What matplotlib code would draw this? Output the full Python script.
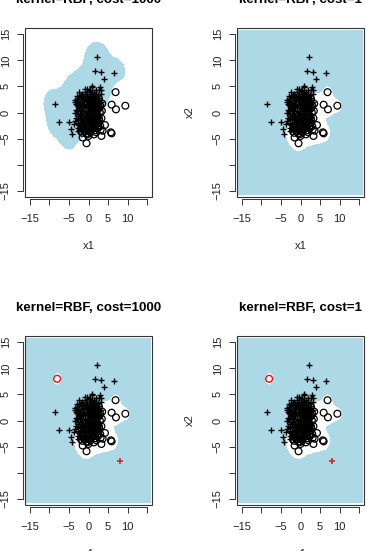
import numpy as np
import matplotlib
matplotlib.use("Agg")
import matplotlib.pyplot as plt
from matplotlib.patches import Rectangle

plt.rcParams["font.family"] = ["Liberation Sans", "DejaVu Sans"]

# points of class "+"
plus_pts = [
    (2.1, 10.7), (1.6, 8.0), (3.3, 7.8), (4.0, 6.5), (6.6, 7.5),
    (-8.6, 1.7), (-7.6, -1.8), (-5.1, -1.9), (-4.4, -3.2), (-4.1, -4.1),
    (-3.5, 2.4), (-3.5, 2.0), (-1.8, 3.1), (0.2, 4.2), (-3.4, -0.1),
    (-2.8, -2.9), (-3.6, -2.2), (0.9, 5.1), (3.0, 4.8), (3.1, 4.3),
    (-3.0, 3.2), (-1.0, 4.5), (-2.6, -3.5),
    (-0.2, 0.3), (0.5, -0.4), (-0.8, 1.1), (0.9, 0.8), (-1.3, -0.6),
    (0.1, 1.9), (-0.5, -1.5), (1.2, -1.1), (-1.8, 0.4), (0.6, 2.6),
    (-1.1, 2.2), (1.5, 1.6), (-2.1, -1.3), (0.3, -2.3), (-0.7, -2.8),
    (1.8, 0.2), (-1.6, 1.7), (2.2, 2.1), (-2.4, 0.9), (0.8, 3.3),
    (-0.3, 3.6), (1.4, 3.0), (-1.9, 2.8), (2.5, -0.3), (-2.7, -0.2),
    (-1.2, -2.1), (0.0, -1.0), (0.4, 0.9), (-0.9, 0.2), (1.0, -0.2),
    (-0.4, -0.6), (0.7, 1.4), (-1.5, -1.8), (1.6, -2.0), (-2.3, -2.4),
    (-0.1, 2.7), (1.1, 2.3), (-0.6, 1.6), (2.0, -1.4), (-2.9, 1.5),
    (-3.1, -1.0), (2.7, 1.0), (0.2, -3.1), (-1.0, -3.4), (1.3, 4.0),
    (-0.8, 3.9), (2.4, 3.3), (-2.6, 2.2), (-3.0, 2.6), (1.9, -2.6),
    (0.9, -2.9), (-1.7, -2.9), (-2.0, 3.4), (0.5, 4.3), (2.9, -1.6),
    (-3.3, 0.5), (-2.2, -3.2), (1.7, 1.1), (-1.4, 0.8), (0.6, -1.7),
    (-0.2, -2.0), (2.3, 0.7), (-1.1, -1.0), (0.0, 0.0), (0.3, 1.3),
    (-0.5, 2.2), (1.2, 0.4), (-2.0, -0.5), (-0.9, -1.9), (1.0, -1.5),
    (3.2, 2.0), (-3.4, -1.7), (2.8, 4.4), (-1.4, 3.2),
    (-1.6, 3.6), (-0.6, 3.2), (0.3, 3.5), (1.0, 3.7), (1.8, 3.6),
    (-2.3, 3.0), (-1.2, 2.7), (-0.4, 3.0), (0.4, 3.1), (1.9, 3.2),
    (2.6, 2.8), (-2.8, 2.1), (-1.5, 2.4), (-0.9, 2.6), (0.2, 2.3),
    (0.9, 2.0), (1.6, 2.5), (2.4, 2.3), (-3.2, 1.7), (-2.2, 1.8),
    (-1.3, 1.4), (-0.2, 1.6), (0.5, 1.9), (1.3, 1.2), (2.1, 1.6),
    (2.8, 1.8), (-2.6, 1.3), (-1.9, 1.0), (-0.4, 1.2), (0.2, 0.6),
    (1.4, 0.7), (2.0, 1.2), (2.5, 0.4), (-3.0, 0.2), (-2.2, 0.2),
    (-1.6, -0.1), (-0.6, -0.1), (0.6, 0.3), (1.1, -0.6), (1.9, -0.4),
    (2.6, -0.9), (-2.6, -0.7), (-1.7, -0.8), (-0.8, -0.5), (0.3, -0.7),
    (0.9, -1.1), (1.6, -1.0), (-2.8, -1.4), (-1.6, -1.3), (-0.7, -1.1),
    (0.3, -1.6), (1.4, -1.5), (2.3, -1.8), (-2.6, -2.0), (-1.9, -2.2),
    (-1.0, -2.3), (0.0, -2.2), (1.1, -2.1), (1.9, -2.0), (-2.2, -2.8),
    (-1.3, -3.0), (-0.4, -3.2), (0.6, -2.7), (1.4, -2.8), (-1.9, -3.5),
    (-0.2, -3.7), (1.0, -3.4), (3.3, 3.5), (2.0, 4.3), (-2.4, 3.9),
    (1.0, 4.8), (-0.3, 4.6),
]

# points of class "o"
circ_pts = [
    (6.9, 3.9), (5.9, 1.5), (7.0, 0.6), (9.4, 1.3), (3.5, 1.7),
    (3.4, 0.3), (4.2, -2.4), (3.1, -3.3), (5.7, -3.8), (5.9, -4.0),
    (3.3, -4.5), (-1.5, -4.8), (-0.5, -5.9), (0.0, -4.1), (2.3, -2.7),
    (2.5, -0.8), (-1.9, -3.6), (0.2, -3.6), (3.6, -3.5),
    (1.5, -0.5), (2.0, 0.9), (1.0, -2.4), (2.6, -2.0), (1.8, -3.4),
    (0.5, -3.8), (-0.8, -3.6), (2.9, 0.0), (3.0, 1.3), (2.2, -1.2),
    (1.3, -1.8), (0.4, -1.2), (-0.3, -2.6), (2.7, 2.6), (1.9, 2.8),
    (-1.2, -2.6), (-2.4, -1.9), (0.8, 0.1), (-0.6, 0.6), (1.1, 1.8),
    (2.4, -3.0), (-1.6, -3.9), (0.0, -4.5), (1.4, -4.2),
    (0.2, -0.3), (-0.2, -1.3), (1.3, 0.9), (0.7, -0.9), (1.8, -1.4),
    (2.7, -1.3), (3.0, -2.6), (1.6, -2.9), (0.8, -3.2), (-0.5, -4.1),
    (2.2, 0.4), (2.8, 0.9), (2.4, 1.9), (-1.0, -0.4), (-1.8, -2.6),
    (0.3, 2.2), (-0.4, 1.9), (1.5, 2.2), (3.3, -1.1), (2.0, -3.8),
]

# the two extra points in the lower panels
red_circ = [(-8.0, 8.0)]
red_plus = [(8.0, -7.8)]

titles = ["kernel=RBF, cost=1000", "kernel=RBF, cost=1",
          "kernel=RBF, cost=1000", "kernel=RBF, cost=1"]
ticks = [-15, -10, -5, 0, 5, 10, 15]
xtick_labels = ["\u221215", "", "\u22125", "0", "5", "10", ""]
ytick_labels = ["\u221215", "", "\u22125", "0", "5", "10", "15"]

BLUE = "#add8e6"
RED = "#d02828"

plus = np.array(plus_pts)
circ = np.array(circ_pts)


def kern_sum(pts, gx, gy, gamma):
    s = np.zeros_like(gx)
    for px, py in pts:
        s += np.exp(-gamma * ((gx - px) ** 2 + (gy - py) ** 2))
    return s


g = np.linspace(-15.7, 15.7, 400)
gx, gy = np.meshgrid(g, g)

fig = plt.figure(figsize=(3.72, 5.51), dpi=100)
W, H = 372, 551
boxes = [(25, 28), (237, 28), (25, 336), (237, 336)]
aw, ah = 127, 169

for i, (bx, by) in enumerate(boxes):
    ax = fig.add_axes([bx / W, 1 - (by + ah) / H, aw / W, ah / H])
    ax.set_xlim(-16.2, 16.2)
    ax.set_ylim(-16.2, 16.2)

    cc = circ_pts if i < 2 else circ_pts + red_circ

    if i == 0:
        kp = kern_sum(plus_pts, gx, gy, 0.2)
        ko = kern_sum(cc, gx, gy, 0.2)
        blue = (kp - 1.2 * ko) > 0.22
    else:
        kp = kern_sum(plus_pts, gx, gy, 1.0)
        ko = kern_sum(cc, gx, gy, 0.35)
        blue = (ko - 0.3 * kp) < 0.6
    img = np.where(blue, 1.0, 0.0)
    ax.contourf(gx, gy, img, levels=[0.5, 1.5], colors=[BLUE])

    ax.scatter(plus[:, 0], plus[:, 1], marker="+", s=24, c="black",
               linewidths=1.0, zorder=3)
    ax.scatter(circ[:, 0], circ[:, 1], marker="o", s=24, facecolors="none",
               edgecolors="black", linewidths=0.9, zorder=3)
    if i >= 2:
        rc = np.array(red_circ)
        rp = np.array(red_plus)
        ax.scatter(rc[:, 0], rc[:, 1], marker="o", s=24, facecolors="none",
                   edgecolors=RED, linewidths=1.1, zorder=4)
        ax.scatter(rp[:, 0], rp[:, 1], marker="+", s=24, c=RED,
                   linewidths=1.2, zorder=4)

    for s in ["top", "right"]:
        ax.spines[s].set_visible(False)
    for s in ["left", "bottom"]:
        ax.spines[s].set_position(("outward", 1.5))
        ax.spines[s].set_bounds(-15, 15)
        ax.spines[s].set_linewidth(0.7)
        ax.spines[s].set_color("#333333")
    ax.add_patch(Rectangle((0, 0), 1, 1, transform=ax.transAxes, fill=False,
                           lw=0.8, edgecolor="#333333", clip_on=False, zorder=5))

    ax.set_xticks(ticks)
    ax.set_xticklabels(xtick_labels)
    ax.set_yticks(ticks)
    ax.set_yticklabels(ytick_labels, rotation=90, va="center")
    ax.tick_params(length=4.3, width=0.7, labelsize=8, colors="#333333",
                   labelcolor="#222222")
    ax.tick_params(axis="x", pad=6.5)
    ax.tick_params(axis="y", pad=4.5)

    ax.annotate(titles[i], xy=(0.5, 1), xycoords="axes fraction",
                xytext=(0, 20), textcoords="offset points", ha="center",
                va="center", fontsize=9.6, fontweight="bold")
    ax.annotate("x1", xy=(0.5, 0), xycoords="axes fraction",
                xytext=(0, -35), textcoords="offset points", ha="center",
                va="center", fontsize=8, color="#222222")
    ax.annotate("x2", xy=(0, 0.5), xycoords="axes fraction",
                xytext=(-34, 0), textcoords="offset points", ha="center",
                va="center", fontsize=8, rotation=90, color="#222222")

fig.savefig("out.png", dpi=100)
